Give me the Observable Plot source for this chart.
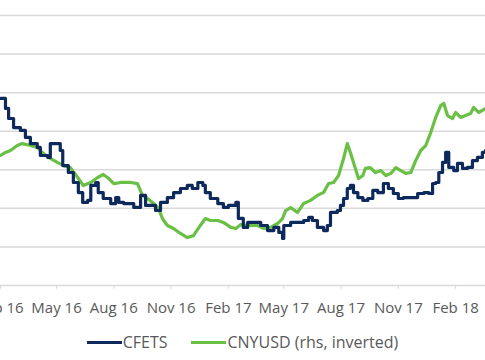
<!DOCTYPE html>
<html>
<head>
<meta charset="utf-8">
<script src="https://cdn.jsdelivr.net/npm/d3@7"></script>
<script src="https://cdn.jsdelivr.net/npm/@observablehq/plot@0.6"></script>
<style>
  html, body { margin: 0; padding: 0; background: #fff; overflow: hidden; }
  #chart { width: 485px; }
  .legend { display: flex; justify-content: center; align-items: center; height: 44px; gap: 24px;
            font-family: "Open Sans", sans-serif; font-size: 16px; color: #595959; }
  .legend .item { display: flex; align-items: center; }
  .legend .sw { width: 35px; height: 3px; margin-right: 1px; }
</style>
</head>
<body>
<div id="chart"></div>
<script>
// ---- Data ----
const cfetsDates = ["2016-02-01","2016-02-09","2016-02-14","2016-02-22","2016-03-04","2016-03-12","2016-03-20","2016-03-31","2016-04-05","2016-04-17","2016-04-21","2016-04-29","2016-05-07","2016-05-11","2016-05-20","2016-05-28","2016-06-05","2016-06-12","2016-06-20","2016-06-25","2016-07-03","2016-07-07","2016-07-15","2016-07-27","2016-08-04","2016-08-09","2016-08-17","2016-08-23","2016-09-02","2016-09-13","2016-09-21","2016-09-29","2016-10-07","2016-10-15","2016-10-26","2016-11-05","2016-11-16","2016-11-27","2016-12-05","2016-12-14","2016-12-22","2016-12-26","2017-01-03","2017-01-15","2017-01-24","2017-02-01","2017-02-13","2017-02-17","2017-02-25","2017-03-04","2017-03-13","2017-03-25","2017-04-05","2017-04-15","2017-04-23","2017-04-29","2017-05-01","2017-05-12","2017-05-23","2017-06-02","2017-06-10","2017-06-16","2017-06-24","2017-07-04","2017-07-10","2017-07-15","2017-07-26","2017-07-31","2017-08-05","2017-08-11","2017-08-16","2017-08-21","2017-08-28","2017-09-05","2017-09-13","2017-09-21","2017-09-29","2017-10-08","2017-10-16","2017-10-24","2017-11-01","2017-11-09","2017-11-21","2017-12-02","2017-12-12","2017-12-20","2017-12-26","2017-12-31","2018-01-05","2018-01-11","2018-01-16","2018-01-21","2018-01-29","2018-02-04","2018-02-12","2018-02-20","2018-02-28","2018-03-08","2018-03-16","2018-03-21"];
const cfetsValues = [99.70,99.18,98.66,98.19,98.04,97.68,97.36,97.16,96.74,96.64,97.36,97.36,97.00,96.22,95.86,95.34,94.82,94.31,94.41,95.19,95.34,94.82,94.51,94.25,94.56,94.31,94.25,94.25,94.05,94.67,94.15,94.15,93.89,94.31,94.56,94.82,95.03,95.19,95.03,95.34,95.19,94.82,94.51,94.25,94.05,94.15,94.31,93.48,93.01,93.27,93.27,93.11,92.85,93.01,92.75,92.44,93.11,93.27,93.27,93.37,93.53,93.37,93.01,92.85,93.11,93.79,93.89,94.15,94.51,95.03,95.19,94.82,94.56,94.41,94.51,94.93,94.82,95.29,95.03,94.77,94.51,94.56,94.56,94.77,94.82,94.77,95.29,95.34,95.86,96.38,96.90,96.12,95.96,96.33,96.07,96.12,96.48,96.64,96.90,97.00];

const cnyDates = ["2016-02-01","2016-02-09","2016-02-17","2016-02-28","2016-03-07","2016-03-20","2016-03-31","2016-04-08","2016-04-18","2016-05-03","2016-05-12","2016-05-23","2016-06-04","2016-06-13","2016-06-25","2016-07-06","2016-07-15","2016-07-24","2016-08-01","2016-08-12","2016-08-28","2016-09-08","2016-09-16","2016-09-24","2016-10-04","2016-10-12","2016-10-18","2016-10-26","2016-11-05","2016-11-16","2016-11-27","2016-12-07","2016-12-18","2016-12-26","2017-01-03","2017-01-15","2017-01-24","2017-02-05","2017-02-13","2017-02-21","2017-03-04","2017-03-20","2017-03-30","2017-04-10","2017-04-21","2017-04-29","2017-05-04","2017-05-12","2017-05-23","2017-06-02","2017-06-13","2017-06-24","2017-07-04","2017-07-12","2017-07-20","2017-07-28","2017-08-05","2017-08-11","2017-08-16","2017-08-24","2017-08-29","2017-09-05","2017-09-09","2017-09-17","2017-09-25","2017-10-04","2017-10-12","2017-10-20","2017-10-28","2017-11-05","2017-11-13","2017-11-21","2017-11-29","2017-12-07","2017-12-15","2017-12-23","2017-12-31","2018-01-08","2018-01-13","2018-01-19","2018-01-27","2018-02-01","2018-02-09","2018-02-17","2018-02-25","2018-03-02","2018-03-10","2018-03-21"];
const cnyValues = [6.598,6.584,6.575,6.552,6.543,6.552,6.561,6.584,6.607,6.631,6.644,6.654,6.700,6.737,6.723,6.700,6.686,6.705,6.728,6.723,6.723,6.728,6.783,6.797,6.820,6.844,6.890,6.922,6.936,6.959,6.978,6.969,6.922,6.890,6.899,6.899,6.908,6.931,6.936,6.918,6.922,6.922,6.936,6.931,6.913,6.890,6.853,6.839,6.862,6.820,6.806,6.783,6.769,6.728,6.723,6.691,6.612,6.543,6.584,6.658,6.705,6.691,6.658,6.654,6.677,6.668,6.691,6.681,6.654,6.668,6.681,6.677,6.621,6.575,6.552,6.492,6.422,6.367,6.357,6.413,6.427,6.399,6.422,6.413,6.404,6.376,6.399,6.381];

const tickDates = ["2016-02-01","2016-05-01","2016-08-01","2016-11-01","2017-02-01","2017-05-01","2017-08-01","2017-11-01","2018-02-01"];
const tickLabels = ["Feb 16","May 16","Aug 16","Nov 16","Feb 17","May 17","Aug 17","Nov 17","Feb 18"];

const lhsGrid = [90, 92, 94, 96, 98, 100, 102, 104];   // left axis (CFETS)
const rhsDomain = [5.95, 7.20];                         // right axis (CNYUSD, inverted)
const seriesNames = ["CFETS", "CNYUSD (rhs, inverted)"];
const seriesColors = ["#0e2a5c", "#6abf45"];

// ---- Build ----
const parse = d3.utcParse("%Y-%m-%d");
const rhsToLhs = d3.scaleLinear().domain(rhsDomain).range([104, 90]);
const cfets = cfetsDates.map((d, i) => ({date: parse(d), value: cfetsValues[i]}));
const cny = cnyDates.map((d, i) => ({date: parse(d), value: rhsToLhs(cnyValues[i])}));
const ticks = tickDates.map(parse);
const labelOf = new Map(ticks.map((t, i) => [+t, tickLabels[i]]));

const chart = Plot.plot({
  width: 485,
  height: 320,
  marginLeft: 0,
  marginRight: 0,
  marginTop: 15,
  marginBottom: 35,
  style: {fontFamily: "'Open Sans', sans-serif", background: "#fff", overflow: "visible"},
  x: {type: "utc", domain: [parse("2016-02-01"), parse("2018-03-21")]},
  y: {domain: [90, 104]},
  marks: [
    Plot.ruleY(lhsGrid, {stroke: "#d9d9d9", strokeWidth: 1.5}),
    Plot.axisX(ticks, {tickSize: 4, tickPadding: 13, fontSize: 15, fill: "#595959", stroke: "#d9d9d9",
                       tickFormat: d => labelOf.get(+d), label: null}),
    Plot.axisY({ticks: [], label: null}),
    Plot.line(cny, {x: "date", y: "value", stroke: seriesColors[1], strokeWidth: 3.2, curve: "linear"}),
    Plot.line(cfets, {x: "date", y: "value", stroke: seriesColors[0], strokeWidth: 3.2, curve: "step-after"})
  ]
});
document.getElementById("chart").appendChild(chart);

const legend = document.createElement("div");
legend.className = "legend";
seriesNames.forEach((name, i) => {
  const item = document.createElement("div");
  item.className = "item";
  const sw = document.createElement("span");
  sw.className = "sw";
  sw.style.background = seriesColors[i];
  const label = document.createElement("span");
  label.textContent = name;
  item.appendChild(sw);
  item.appendChild(label);
  legend.appendChild(item);
});
document.getElementById("chart").appendChild(legend);
</script>
</body>
</html>
